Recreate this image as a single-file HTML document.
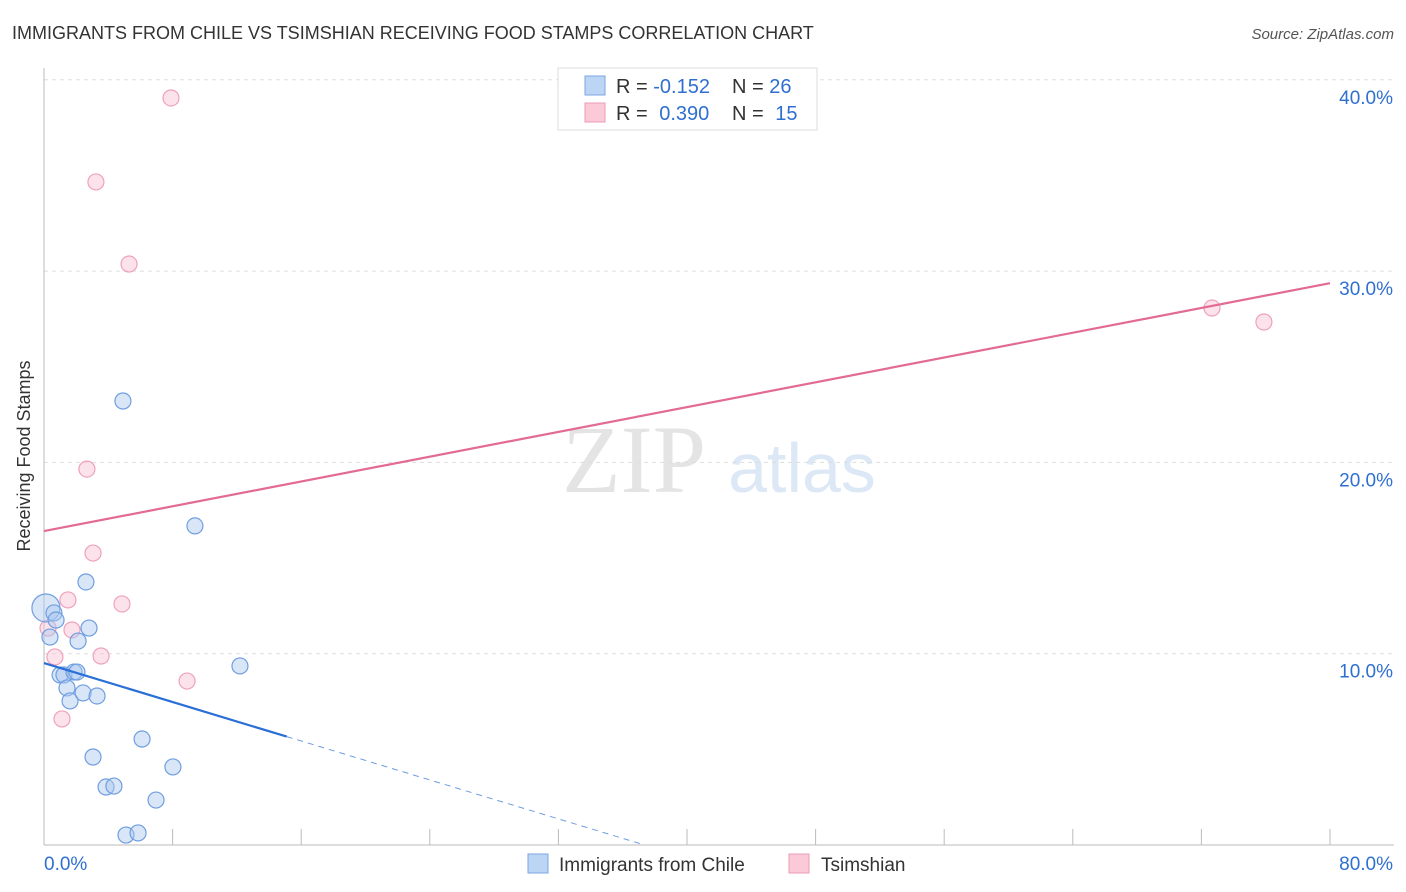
<!DOCTYPE html>
<html><head><meta charset="utf-8"><style>
body{margin:0;background:#fff;width:1406px;height:892px;overflow:hidden;font-family:"Liberation Sans",sans-serif}
svg{position:absolute;left:0;top:0}
</style></head><body>
<svg id="c" width="1406" height="892">
<text x="12" y="39" font-size="18" fill="#333">IMMIGRANTS FROM CHILE VS TSIMSHIAN RECEIVING FOOD STAMPS CORRELATION CHART</text>
<text x="1394" y="39" font-size="15" fill="#555" font-style="italic" text-anchor="end">Source: ZipAtlas.com</text>
<text x="30" y="456" font-size="18" fill="#333" text-anchor="middle" transform="rotate(-90 30 456)">Receiving Food Stamps</text>
<text x="634" y="492" font-size="96" fill="#e4e4e4" font-family="Liberation Serif,serif" text-anchor="middle">ZIP</text>
<text x="802" y="492" font-size="70" fill="#dce8f6" text-anchor="middle">atlas</text>
<g id="grid"></g><g id="marks"></g>
<g>
<rect x="558" y="68" width="259" height="62" fill="#fff" stroke="#ddd"/>
<rect x="585" y="76" width="20" height="19" fill="#bcd5f5" stroke="#7aa6e0"/>
<rect x="585" y="103" width="20" height="19" fill="#fbc9d8" stroke="#ee9bb5"/>
<text x="616" y="93" font-size="20" fill="#333">R = <tspan fill="#2f6fd0">-0.152</tspan></text>
<text x="732" y="93" font-size="20" fill="#333">N = <tspan fill="#2f6fd0">26</tspan></text>
<text x="616" y="120" font-size="20" fill="#333">R = <tspan fill="#2f6fd0" dx="6">0.390</tspan></text>
<text x="732" y="120" font-size="20" fill="#333">N = <tspan fill="#2f6fd0" dx="6">15</tspan></text>
</g>
<g>
<rect x="528" y="854" width="20" height="19" fill="#bcd5f5" stroke="#7aa6e0"/>
<text x="559" y="871" font-size="19" fill="#333">Immigrants from Chile</text>
<rect x="789" y="854" width="20" height="19" fill="#fbc9d8" stroke="#ee9bb5"/>
<text x="821" y="871" font-size="19" fill="#333">Tsimshian</text>
</g>
</svg>
<script>
const blueX=[0.12,0.62,0.75,0.37,2.61,2.8,2.12,4.91,9.39,1.0,1.24,1.43,1.62,1.87,2.05,2.43,3.3,12.19,6.1,3.05,3.86,4.35,8.02,6.97,5.1,5.85];
const blueY=[12.39,12.13,11.76,10.87,13.75,11.34,10.66,23.21,16.68,8.89,8.89,8.21,7.53,9.04,9.04,7.95,7.79,9.36,5.54,4.6,3.03,3.08,4.08,2.35,0.52,0.63];
const pinkX=[7.9,3.23,5.29,2.67,3.05,1.49,4.85,1.74,0.25,0.68,3.55,8.9,1.12,72.66,75.89];
const pinkY=[39.05,34.66,30.37,19.65,15.26,12.81,12.6,11.24,11.34,9.83,9.88,8.57,6.59,28.07,27.34];
const yTicks=[10,20,30,40];
const yTickLabels=["10.0%","20.0%","30.0%","40.0%"];
const blueTrend=[9.51,-0.2545];const pinkTrend=[16.41,0.162];
const X=v=>44+v*16.075, Y=v=>845-v*19.13;
const NS="http://www.w3.org/2000/svg";
function mk(t,a,p){const e=document.createElementNS(NS,t);for(const k in a)e.setAttribute(k,a[k]);p.appendChild(e);return e;}
const g=document.getElementById('grid'),m=document.getElementById('marks');
yTicks.forEach((t,i)=>{
 const l=mk('line',{x1:44,x2:1394,y1:Y(t),y2:Y(t),stroke:'#ddd','stroke-dasharray':'4,4'},g);
 
 
 const tx=mk('text',{x:1393,y:Y(t)+24,'font-size':19,fill:'#2f6fd0','text-anchor':'end'},g);tx.textContent=yTickLabels[i];
 
 
});
mk('line',{x1:44,x2:44,y1:68,y2:845,stroke:'#bbb'},g);
mk('line',{x1:44,x2:1394,y1:845,y2:845,stroke:'#bbb'},g);
for(let i=0;i<=10;i++){const t=mk('line',{x1:X(i*8),x2:X(i*8),y1:829,y2:845,stroke:'#bbb'},g);
 
 }
const xl=mk('text',{x:44,y:870,'font-size':19,fill:'#2f6fd0'},g);xl.textContent='0.0%';


const xr=mk('text',{x:1393,y:870,'font-size':19,fill:'#2f6fd0','text-anchor':'end'},g);xr.textContent='80.0%';


pinkX.forEach((x,i)=>{const c=mk('circle',{cx:X(x),cy:Y(pinkY[i]),r:8,fill:'rgba(248,190,208,0.45)',stroke:'#eea2ba','stroke-width':1.2},m);
 
 });
blueX.forEach((x,i)=>{const c=mk('circle',{cx:X(x),cy:Y(blueY[i]),r:i==0?14:8,fill:'rgba(170,200,240,0.45)',stroke:'#6f9ee0','stroke-width':1.2},m);
 
 });
const pl=mk('line',{x1:X(0),y1:Y(pinkTrend[0]),x2:X(80),y2:Y(pinkTrend[0]+pinkTrend[1]*80),stroke:'#e36a95','stroke-width':2.2},m);


const bl=mk('line',{x1:X(0),y1:Y(blueTrend[0]),x2:X(15.1),y2:Y(blueTrend[0]+blueTrend[1]*15.1),stroke:'#2a6fd6','stroke-width':2.2},m);


const xe=-blueTrend[0]/blueTrend[1];
const bd=mk('line',{x1:X(15.1),y1:Y(blueTrend[0]+blueTrend[1]*15.1),x2:X(xe),y2:Y(0),stroke:'#6f9ee0','stroke-width':1,'stroke-dasharray':'6,5'},m);


</script>
</body></html>
